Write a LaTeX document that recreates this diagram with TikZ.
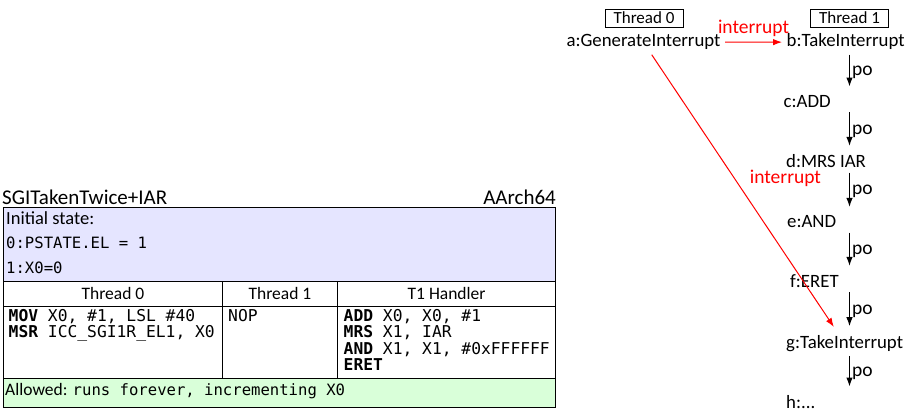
\documentclass[tikz,border=0pt]{standalone}
\usepackage{fontspec}
\setmainfont{Carlito}
\setmonofont{DejaVu Sans Mono}
\usetikzlibrary{arrows.meta}
\newcommand{\cmono}{\ttfamily\fontsize{16.3}{16}\selectfont}
\newcommand{\imono}{\ttfamily\fontsize{15.6}{16}\selectfont}
\begin{document}
\begin{tikzpicture}[x=1pt,y=-1pt,
  gtext/.style={font=\fontsize{18.8}{20}\selectfont, inner sep=4.5pt},
  tboxt/.style={draw, line width=0.8pt, minimum width=78pt, minimum height=18pt, inner sep=0pt, font=\fontsize{17}{20}\selectfont},
  poarrow/.style={-{Latex[length=9pt,width=6.5pt]}, line width=1.2pt, shorten >=4pt},
  irq/.style={red, line width=1pt, -{Latex[length=9pt,width=6.5pt]}},
  irqlbl/.style={font=\fontsize{19.5}{20}\selectfont, text=red, inner sep=5.5pt},
  polbl/.style={font=\fontsize{19.5}{20}\selectfont, inner sep=2pt},
  tsans/.style={font=\fontsize{17.5}{20}\selectfont, inner sep=0pt},
  tinit/.style={font=\fontsize{18.5}{20}\selectfont, inner sep=0pt},
  ttitle/.style={font=\fontsize{21}{22}\selectfont, inner sep=0pt},
  tmono/.style={font=\cmono, inner sep=0pt},
  imono/.style={font=\imono, inner sep=0pt},
  rule/.style={line width=0.8pt},
]
\useasboundingbox (0,0) rectangle (919,412);
% ---------- table ----------
\fill[blue!10] (3.5,207.5) rectangle (555.7,281.7);
\fill[green!15] (3.5,378.3) rectangle (555.7,407.7);
\draw[rule] (3.5,207.5) rectangle (555.7,407.7);
\draw[rule] (3.5,281.7) -- (555.7,281.7);
\draw[rule] (3.5,306.7) -- (555.7,306.7);
\draw[rule] (3.5,378.3) -- (555.7,378.3);
\draw[rule] (222.5,281.7) -- (222.5,378.3);
\draw[rule] (337.5,281.7) -- (337.5,378.3);
\node[ttitle, anchor=base west] (title) at (2,204.5) {SGITakenTwice+IAR};
\node[ttitle, anchor=base east] (arch) at (556,204.5) {AArch64};
\node[tinit, anchor=base west] (init) at (6,224) {Initial state:};
\node[imono, anchor=base west] (init0) at (6,248.5) {0:PSTATE.EL = 1};
\node[imono, anchor=base west] (init1) at (6,273.5) {1:X0=0};
\node[tsans, anchor=base] (h0) at (113,299.5) {Thread 0};
\node[tsans, anchor=base] (h1) at (280,299.5) {Thread 1};
\node[tsans, anchor=base] (h2) at (446.6,299.5) {T1 Handler};
\node[tmono, anchor=base west] (c01) at (8.5,321.7) {\textbf{MOV} X0, \#1, LSL \#40};
\node[tmono, anchor=base west] (c02) at (8.5,337.9) {\textbf{MSR} ICC\_SGI1R\_EL1, X0};
\node[tmono, anchor=base west] (c11) at (228,321.7) {NOP};
\node[tmono, anchor=base west] (c21) at (343.5,321.7) {\textbf{ADD} X0, X0, \#1};
\node[tmono, anchor=base west] (c22) at (343.5,337.9) {\textbf{MRS} X1, IAR};
\node[tmono, anchor=base west] (c23) at (343.5,354.1) {\textbf{AND} X1, X1, \#0xFFFFFF};
\node[tmono, anchor=base west] (c24) at (343.5,370.3) {\textbf{ERET}};
\node[tsans, anchor=base west] (allowed) at (5,395) {Allowed: {\imono runs forever, incrementing X0}};
% ---------- graph ----------
\node[tboxt] (th0) at (644,18) {Thread 0};
\node[tboxt] (th1) at (849.5,18) {Thread 1};
\node[gtext, anchor=base] (a) at (643.5,47) {a:GenerateInterrupt};
\node[gtext, anchor=base west] (b) at (782,47) {b:TakeInterrupt};
\node[gtext, anchor=base west] (c) at (779,107.3) {c:ADD};
\node[gtext, anchor=base west] (d) at (781.5,167.7) {d:MRS IAR};
\node[gtext, anchor=base west] (e) at (782.5,227.7) {e:AND};
\node[gtext, anchor=base west] (f) at (785.5,287.5) {f:ERET};
\node[gtext, anchor=base west] (g) at (781.5,348) {g:TakeInterrupt};
\node[gtext, anchor=base west] (h) at (781.5,408.3) {h:...};
\draw[poarrow] (b.south -| th1.south) -- node[polbl, right] {po} (c.north -| th1.south);
\draw[poarrow] (c.south -| th1.south) -- node[polbl, right] {po} (d.north -| th1.south);
\draw[poarrow] (d.south -| th1.south) -- node[polbl, right] {po} (e.north -| th1.south);
\draw[poarrow] (e.south -| th1.south) -- node[polbl, right] {po} (f.north -| th1.south);
\draw[poarrow] (f.south -| th1.south) -- node[polbl, right] {po} (g.north -| th1.south);
\draw[poarrow] (g.south -| th1.south) -- node[polbl, right] {po} (h.north -| th1.south);
\draw[irq] (a) -- node[irqlbl, midway, above] {interrupt} (b);
\draw[irq, shorten >=4pt] (a) -- node[irqlbl, midway, above right] {interrupt} (g);
\end{tikzpicture}
\end{document}
